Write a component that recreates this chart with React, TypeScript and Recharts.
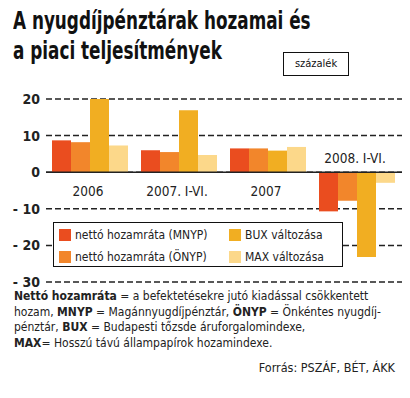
import React from "react";
import { BarChart, Bar, XAxis, YAxis, CartesianGrid, ReferenceLine, LabelList } from "recharts";

const categories = ["2006", "2007. I-VI.", "2007", "2008. I-VI."];
const mnyp = [8.7, 6.0, 6.5, -10.7];
const onyp = [8.2, 5.5, 6.5, -7.8];
const bux = [20.0, 16.9, 5.9, -23.2];
const maxIdx = [7.3, 4.7, 6.9, -2.9];
const yTicks = [20, 10, 0, -10, -20, -30];

const seriesNames = ["nettó hozamráta (MNYP)", "nettó hozamráta (ÖNYP)", "BUX változása", "MAX változása"];
const colors = ["#ea4d1f", "#f2862b", "#f1ae22", "#fcd88a"];

const data = categories.map((c, i) => ({ cat: c, mnyp: mnyp[i], onyp: onyp[i], bux: bux[i], max: maxIdx[i] }));

const COND = "'DejaVu Sans Condensed', 'Liberation Sans Narrow', sans-serif";

const CatLabel = (props: any) => {
  const vb = props.viewBox || props;
  const x = Number(vb.x ?? props.x);
  const y = Number(vb.y ?? props.y);
  const w = Number(vb.width ?? props.width);
  const h = Number(vb.height ?? props.height);
  const idx = props.index ?? 0;
  const v = mnyp[idx];
  let zero: number;
  if (v >= 0) zero = y + h;
  else zero = h < 0 ? y + h : y;
  const cx = x + 2 * w - 2;
  const ty = v >= 0 ? zero + 24 : zero - 9;
  return (
    <text x={cx} y={ty} textAnchor="middle" fontFamily={COND} fontSize={13.5} fill="#222">
      {categories[idx]}
    </text>
  );
};

const fmt = (v: number) => (v < 0 ? `- ${-v}` : `${v}`);

export default function App() {
  return (
    <div style={{ position: "relative", width: 410, height: 398, background: "#fff", overflow: "hidden" }}>
      <style>{`body{margin:0;}`}</style>
      <div style={{ position: "absolute", left: 13, top: 6, fontFamily: COND, fontWeight: 700, fontSize: 24, lineHeight: "30px", color: "#111", whiteSpace: "nowrap", transform: "scaleX(0.78)", transformOrigin: "left top" }}>
        A nyugdíjpénztárak hozamai és
        <br />
        a piaci teljesítmények
      </div>
      <div style={{ position: "absolute", left: 283, top: 52, width: 64, height: 22, border: "1.5px solid #111", fontFamily: COND, fontSize: 11, lineHeight: "22px", textAlign: "center", color: "#111" }}>
        százalék
      </div>
      <div style={{ position: "absolute", left: 0, top: 0 }}>
        <BarChart width={410} height={300} data={data} margin={{ top: 99, right: 8, bottom: 18, left: 6 }} barCategoryGap={6} barGap={0}>
          <CartesianGrid vertical={false} stroke="#222" strokeWidth={1.5} strokeDasharray="6 3" />
          <XAxis dataKey="cat" hide />
          <YAxis
            width={40}
            domain={[-30, 20]}
            ticks={yTicks}
            axisLine={false}
            tickLine={false}
            tickSize={0}
            tickMargin={6}
            tickFormatter={fmt}
            tick={{ fontFamily: COND, fontSize: 14, fill: "#222", fontWeight: 700 }}
            interval={0}
          />
          <ReferenceLine y={0} stroke="#222" strokeWidth={1.5} />
          <Bar dataKey="mnyp" fill={colors[0]} isAnimationActive={false}>
            <LabelList dataKey="mnyp" content={CatLabel} />
          </Bar>
          <Bar dataKey="onyp" fill={colors[1]} isAnimationActive={false} />
          <Bar dataKey="bux" fill={colors[2]} isAnimationActive={false} />
          <Bar dataKey="max" fill={colors[3]} isAnimationActive={false} />
        </BarChart>
      </div>
      <div style={{ position: "absolute", left: 53, top: 222, width: 288, height: 43, border: "1.5px solid #111", background: "#fff", fontFamily: COND, fontSize: 12, color: "#222" }}>
        {[0, 1, 2, 3].map((s) => {
          const col = s < 2 ? 0 : 1;
          const row = s % 2;
          return (
            <div key={s} style={{ position: "absolute", left: col === 0 ? 5 : 175, top: row === 0 ? 5 : 27, display: "flex", alignItems: "center", whiteSpace: "nowrap" }}>
              <span style={{ display: "inline-block", width: 12, height: 12, background: colors[s], marginRight: 4 }} />
              <span>{seriesNames[s]}</span>
            </div>
          );
        })}
      </div>
      <div style={{ position: "absolute", left: 14, top: 289, fontFamily: COND, fontSize: 12, lineHeight: "15.5px", color: "#222", whiteSpace: "nowrap" }}>
        <div><b>Nettó hozamráta</b> = a befektetésekre jutó kiadással csökkentett</div>
        <div>hozam, <b>MNYP</b> = Magánnyugdíjpénztár, <b>ÖNYP</b> = Önkéntes nyugdíj-</div>
        <div>pénztár, <b>BUX</b> = Budapesti tőzsde áruforgalomindexe,</div>
        <div><b>MAX</b>= Hosszú távú állampapírok hozamindexe.</div>
      </div>
      <div style={{ position: "absolute", right: 15, top: 360, fontFamily: COND, fontSize: 12.5, color: "#222", whiteSpace: "nowrap" }}>
        Forrás: PSZÁF, BÉT, ÁKK
      </div>
    </div>
  );
}
